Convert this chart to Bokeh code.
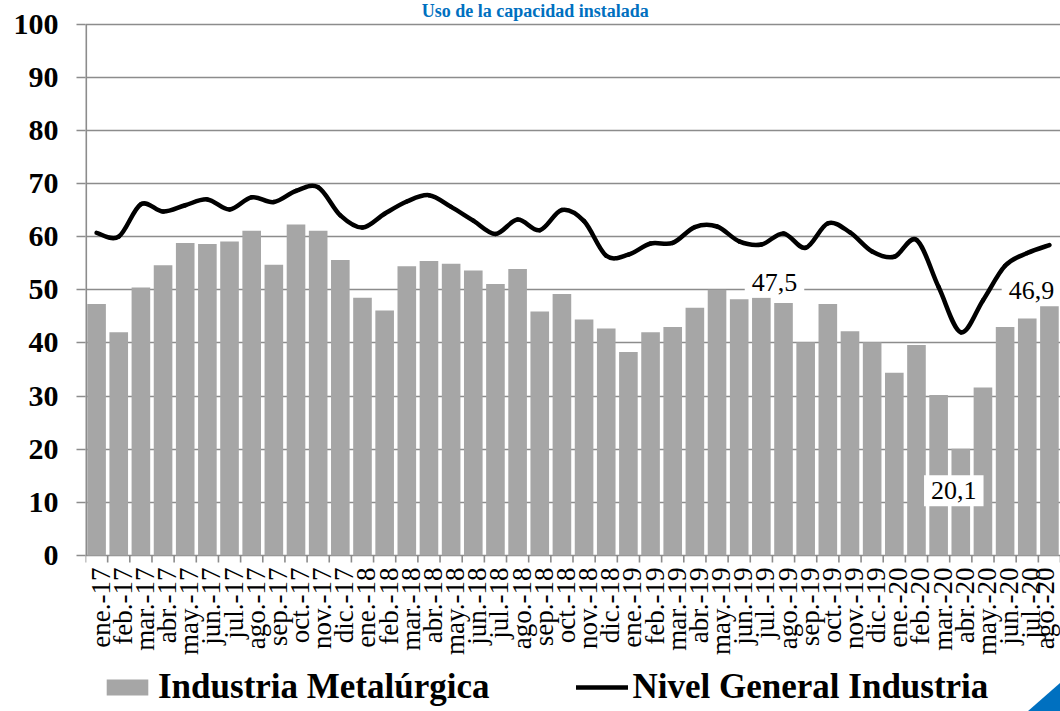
import math
from bokeh.plotting import figure
from bokeh.models import (Range1d, FixedTicker, Legend, LegendItem, Label, PolyAnnotation)
from bokeh.embed import file_html
from bokeh.resources import INLINE

# ---------------- data ----------------
months = ["ene.-17", "feb.-17", "mar.-17", "abr.-17", "may.-17", "jun.-17", "jul.-17", "ago.-17",
          "sep.-17", "oct.-17", "nov.-17", "dic.-17",
          "ene.-18", "feb.-18", "mar.-18", "abr.-18", "may.-18", "jun.-18", "jul.-18", "ago.-18",
          "sep.-18", "oct.-18", "nov.-18", "dic.-18",
          "ene.-19", "feb.-19", "mar.-19", "abr.-19", "may.-19", "jun.-19", "jul.-19", "ago.-19",
          "sep.-19", "oct.-19", "nov.-19", "dic.-19",
          "ene.-20", "feb.-20", "mar.-20", "abr.-20", "may.-20", "jun.-20", "jul.-20", "ago.-20"]

industria_metalurgica = [47.3, 42.0, 50.4, 54.6, 58.8, 58.6, 59.1, 61.1, 54.7, 62.3, 61.1, 55.6,
                         48.5, 46.1, 54.4, 55.4, 54.9, 53.6, 51.1, 53.9, 45.9, 49.2, 44.4, 42.7,
                         38.3, 42.0, 43.0, 46.6, 50.0, 48.2, 48.5, 47.5, 40.1, 47.3, 42.2, 40.1,
                         34.4, 39.6, 30.2, 20.1, 31.6, 43.0, 44.6, 46.9]

nivel_general = [60.7, 60.0, 66.1, 64.7, 65.9, 67.0, 65.1, 67.4, 66.5, 68.6, 69.3, 64.0,
                 61.7, 64.3, 66.6, 67.8, 65.6, 63.0, 60.5, 63.2, 61.2, 65.0, 62.9, 56.4,
                 56.6, 58.7, 58.8, 61.8, 61.9, 59.1, 58.5, 60.6, 57.9, 62.5, 60.8, 57.2,
                 56.2, 59.4, 50.5, 42.0, 48.0, 54.5, 56.9, 58.4]

y_ticks = [0, 10, 20, 30, 40, 50, 60, 70, 80, 90, 100]

# labelled values: (month index, text)
labelled = [(31, "47,5"), (39, "20,1"), (43, "46,9")]

title_text = "Uso de la capacidad instalada"

# ---------------- layout constants ----------------
n = len(months)
xc = [i + 0.5 for i in range(n)]

W, H = 1060, 711
LEFT = 85                    # px, y-axis panel
Y0_PX, Y100_PX = 555, 23.5   # canvas px of value 0 and 100
PX_PER_UNIT = (Y0_PX - Y100_PX) / 100.0
y_start = -(H - Y0_PX) / PX_PER_UNIT
y_end = 100 + Y100_PX / PX_PER_UNIT
PX_PER_X = (W - LEFT) / n

def px_down(px):
    """a vertical distance in px expressed in data units"""
    return px / PX_PER_UNIT

SERIF = "Liberation Serif"
GRID = "#8C8C8C"

p = figure(width=W, height=H, x_range=Range1d(0, n), y_range=Range1d(y_start, y_end),
           output_backend="svg", toolbar_location=None, title=None, x_axis_location=None,
           min_border_left=LEFT, min_border_right=0, min_border_top=0, min_border_bottom=0)
p.outline_line_color = None
p.background_fill_color = "white"
p.border_fill_color = "white"

# grid
p.xgrid.visible = False
p.ygrid.grid_line_color = GRID
p.ygrid.grid_line_width = 1.6
p.ygrid.ticker = FixedTicker(ticks=y_ticks)

# bars
bars = p.vbar(x=xc, top=industria_metalurgica, width=0.84, fill_color="#A6A6A6", line_color=None)

# y axis line and category boundary ticks
p.segment(x0=[0], y0=[0], x1=[0], y1=[100], line_color=GRID, line_width=3.2)
bounds = list(range(n + 1))
p.segment(x0=bounds, y0=[0] * len(bounds), x1=bounds, y1=[-px_down(7)] * len(bounds),
          line_color=GRID, line_width=1.6)

# smooth line (Catmull-Rom -> cubic bezier segments through the data points)
x0, y0, x1, y1, cx0, cy0, cx1, cy1 = [], [], [], [], [], [], [], []
for i in range(n - 1):
    im = max(i - 1, 0)
    i2 = min(i + 2, n - 1)
    x0.append(xc[i]); y0.append(nivel_general[i])
    x1.append(xc[i + 1]); y1.append(nivel_general[i + 1])
    cx0.append(xc[i] + (xc[i + 1] - xc[im]) / 6.0)
    cy0.append(nivel_general[i] + (nivel_general[i + 1] - nivel_general[im]) / 6.0)
    cx1.append(xc[i + 1] - (xc[i2] - xc[i]) / 6.0)
    cy1.append(nivel_general[i + 1] - (nivel_general[i2] - nivel_general[i]) / 6.0)
curve = p.bezier(x0=x0, y0=y0, x1=x1, y1=y1, cx0=cx0, cy0=cy0, cx1=cx1, cy1=cy1,
                 line_color="black", line_width=4.5, line_cap="round")

# y axis
ya = p.yaxis[0]
ya.ticker = FixedTicker(ticks=y_ticks)
ya.axis_line_color = None
ya.major_tick_line_color = GRID
ya.major_tick_line_width = 1.6
ya.major_tick_out = 9
ya.major_tick_in = 0
ya.minor_tick_line_color = None
ya.major_label_text_font = SERIF
ya.major_label_text_font_style = "bold"
ya.major_label_text_font_size = "30px"
ya.major_label_text_color = "black"
ya.major_label_standoff = 18

# category labels (rotated), just below the axis; the last one nudged to stay inside the page
label_dx = [4] * (n - 1) + [-4]
p.text(x=xc, y=[-px_down(12)] * n, text=months, angle=math.pi / 2, x_offset=label_dx,
       text_align="right", text_baseline="middle",
       text_font={"value": SERIF}, text_font_size="27px", text_color="black")

# data labels
offsets = {"47,5": (-9, 21), "20,1": (-7, -42), "46,9": (-18, 16)}
for idx, txt in labelled:
    xo, yo = offsets[txt]
    p.add_layout(Label(x=xc[idx], y=industria_metalurgica[idx], text=txt, x_offset=xo, y_offset=yo,
                       text_align="center", text_baseline="middle",
                       text_font=SERIF, text_font_size="26px", text_color="black",
                       background_fill_color="white", padding=7))

# title
p.add_layout(Label(x=20.3, y=100, text=title_text, y_offset=3,
                   text_align="center", text_baseline="bottom",
                   text_font=SERIF, text_font_style="bold", text_font_size="18px",
                   text_color="#0070C0"))

# legend
legend = Legend(items=[LegendItem(label="Industria Metalúrgica", renderers=[bars]),
                       LegendItem(label="Nivel General Industria", renderers=[curve])],
                orientation="horizontal", location=(16, 4),
                label_text_font=SERIF, label_text_font_style="bold", label_text_font_size="35px",
                label_text_color="black", glyph_width=52, glyph_height=20, label_standoff=5,
                spacing=86, padding=0, margin=0, border_line_color=None,
                background_fill_alpha=0)
p.add_layout(legend, "center")

# decorative blue corner triangle (bottom-right of the canvas)
tri_left = n - 33 / PX_PER_X
tri_top = y_start + 29 / PX_PER_UNIT
p.add_layout(PolyAnnotation(xs=[tri_left, n, n], ys=[y_start, y_start, tri_top],
                            fill_color="#0070C0", fill_alpha=1.0, line_color=None))

open("out.html", "w").write(file_html(p, INLINE))
